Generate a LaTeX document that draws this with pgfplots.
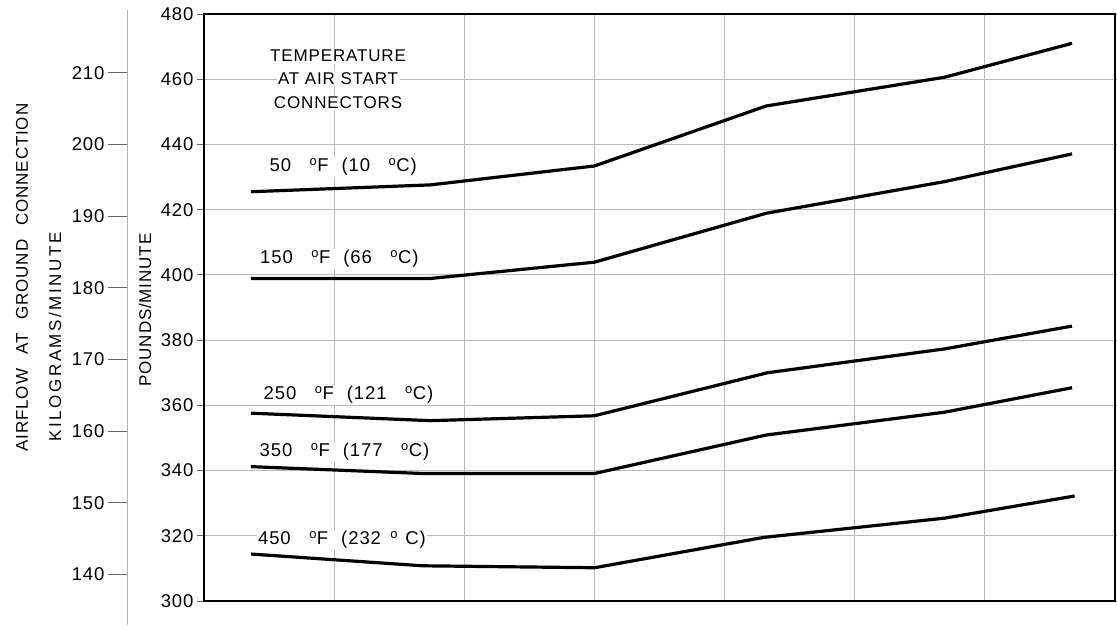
\documentclass[border=0pt]{standalone}
\usepackage{fontspec}
\setmainfont[LetterSpace=5]{Liberation Sans}
\usepackage{pgfplots}
\pgfplotsset{compat=1.18}
\newcommand{\dg}{\textsuperscript{o}}
\newcommand{\gap}{\hspace{1em}}
\begin{document}
\begin{tikzpicture}
\useasboundingbox (0,0) rectangle (1117pt,-625pt);
% kilograms axis
\begin{axis}[at={(127pt,-625pt)}, anchor=south west, scale only axis,
  width=1pt, height=615pt,
  xmin=0, xmax=1, ymin=132.93, ymax=218.75,
  axis y line=left, axis x line=none,
  y axis line style={-, draw=gray!60, line width=1pt},
  xtick=\empty, ytick={140,150,...,210},
  tick align=outside, major tick length=19pt,
  ytick style={draw=black!60, line width=1pt},
  /pgf/number format/assume math mode=true,
  yticklabel style={font=\fontsize{18.5}{18.5}\selectfont}]
\end{axis}
% pounds axis
\begin{axis}[at={(204pt,-601pt)}, anchor=south west, scale only axis,
  width=911pt, height=587pt,
  xmin=0, xmax=7, ymin=300, ymax=480,
  xtick={1,...,6}, xticklabels={}, xtick style={draw=none},
  ytick={300,320,...,480},
  tick align=outside, major tick length=7pt,
  ytick style={draw=black!60, line width=1pt},
  grid=major, grid style={gray!55, line width=1pt},
  axis line style={line width=2.2pt},
  /pgf/number format/assume math mode=true,
  yticklabel style={font=\fontsize{18.5}{18.5}\selectfont},
  cycle list={{black, line width=3.2pt, line join=round, mark=none}}]
\addplot[black, line width=3.2pt] coordinates {(0.36,425.5) (1.74,427.6) (3.0,433.4) (4.32,451.8) (5.69,460.6) (6.67,471.0)};
\addplot[black, line width=3.2pt] coordinates {(0.36,398.9) (1.74,398.9) (3.0,403.9) (4.32,418.9) (5.69,428.6) (6.67,437.1)};
\addplot[black, line width=3.2pt] coordinates {(0.36,357.6) (1.74,355.3) (3.0,356.8) (4.33,370.0) (5.69,377.3) (6.67,384.3)};
\addplot[black, line width=3.2pt] coordinates {(0.36,341.2) (1.68,339.1) (3.0,339.1) (4.32,350.9) (5.69,357.9) (6.67,365.4)};
\addplot[black, line width=3.2pt] coordinates {(0.36,314.4) (1.68,310.8) (3.0,310.2) (4.30,319.5) (5.69,325.4) (6.69,332.2)};
\begin{scope}[every node/.style={fill=white, inner sep=1.5pt, font=\fontsize{17}{17}\selectfont}]
\node at (axis cs:1.03,467.1) {TEMPERATURE};
\node at (axis cs:1.03,460.1) {AT AIR START};
\node at (axis cs:1.03,452.7) {CONNECTORS};
\end{scope}
\begin{scope}[every node/.style={fill=white, inner sep=1.5pt, font=\fontsize{18.5}{18.5}\selectfont}]
\node at (axis cs:1.07,433.1) {50\gap\dg F\hspace{0.7em}(10\gap\dg C)};
\node at (axis cs:1.04,404.9) {150\gap\dg F\hspace{0.7em}(66\gap\dg C)};
\node at (axis cs:1.11,363.2) {250\gap\dg F\hspace{0.7em}(121\gap\dg C)};
\node at (axis cs:1.08,345.7) {350\gap\dg F\hspace{0.7em}(177\gap\dg C)};
\node at (axis cs:1.06,318.7) {450\gap\dg F\hspace{0.7em}(232\hspace{0.5em}\dg\hspace{0.4em}C)};
\end{scope}
\end{axis}
\node[rotate=90, font=\fontsize{17}{17}\selectfont] at (145pt,-310pt) {POUNDS/MINUTE};
\node[rotate=90, anchor=west, font=\fontsize{17}{17}\selectfont\addfontfeature{LetterSpace=15}] at (55pt,-445pt) {KILOGRAMS/MINUTE};
\node[rotate=90, anchor=west, font=\fontsize{17}{17}\selectfont] at (22pt,-455pt) {AIRFLOW\hspace{0.5em} AT\hspace{0.5em} GROUND\hspace{0.5em} CONNECTION};
\end{tikzpicture}
\end{document}
